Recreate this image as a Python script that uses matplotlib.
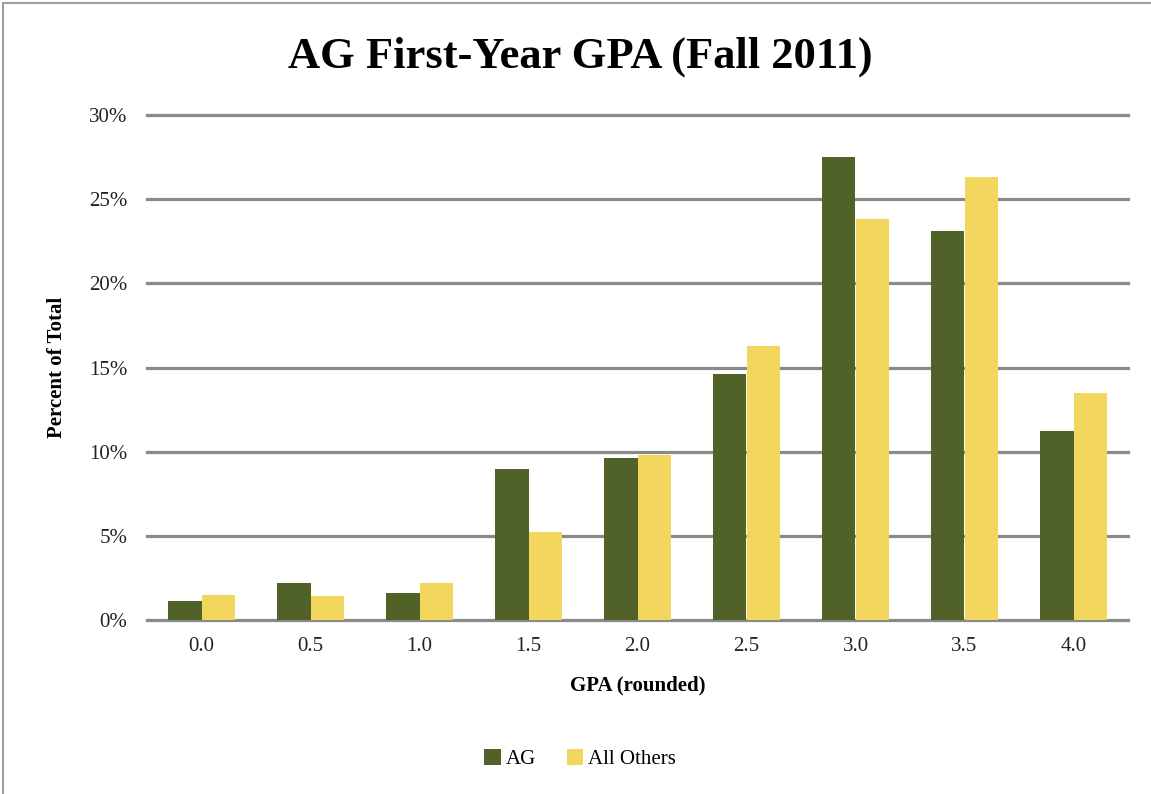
import matplotlib
matplotlib.use("Agg")
import matplotlib.pyplot as plt
import numpy as np
from matplotlib.patches import Rectangle
from matplotlib.ticker import FuncFormatter

categories = ["0.0", "0.5", "1.0", "1.5", "2.0", "2.5", "3.0", "3.5", "4.0"]
ag = [1.1, 2.2, 1.6, 9.0, 9.6, 14.6, 27.5, 23.1, 11.2]
others = [1.5, 1.4, 2.2, 5.2, 9.8, 16.3, 23.8, 26.3, 13.5]
yticks = [0, 5, 10, 15, 20, 25, 30]

plt.rcParams['font.family'] = ['Liberation Serif', 'DejaVu Serif']

fig = plt.figure(figsize=(11.51, 7.94), dpi=100)
ax = fig.add_axes([147/1151, 1-620/794, (1128-147)/1151, (620-115)/794])

x = np.arange(len(categories))
w = 0.31
ax.bar(x - w/2, ag, w, color="#506228", label="AG", zorder=3)
ax.bar(x + w/2, others, w, color="#F2D65E", label="All Others", zorder=3)

ax.set_xlim(-0.5, len(categories) - 0.5)
ax.set_ylim(0, 30)
ax.set_yticks(yticks)
ax.yaxis.set_major_formatter(FuncFormatter(lambda v, p: f"{int(v)}%"))
ax.set_xticks(x)
ax.set_xticklabels(categories)
ax.grid(axis="y", color="#898989", linewidth=2.3, zorder=0)
for gl in ax.get_ygridlines():
    gl.set_clip_on(False)
ax.tick_params(length=0, labelsize=15, colors="#222222", pad=14)
ax.tick_params(axis="x", pad=12)
for s in ax.spines.values():
    s.set_visible(False)

ax.set_xlabel("GPA (rounded)", fontsize=15, fontweight="bold", labelpad=14)
ax.set_ylabel("Percent of Total", fontsize=15, fontweight="bold", labelpad=16)

fig.text(580/1151, 1-57/794, "AG First-Year GPA (Fall 2011)", ha="center", va="center",
         fontsize=32, fontweight="bold")

leg = fig.legend(loc="center", bbox_to_anchor=(580/1151, 1-759/794), ncol=2, frameon=False,
                 fontsize=15, handlelength=0.8, handleheight=0.8, handletextpad=0.2,
                 columnspacing=1.5)

fig.patches.append(Rectangle((3/1151, -0.01), 1, 1-3/794+0.01, transform=fig.transFigure,
                             fill=False, edgecolor="#A0A0A0", linewidth=1.5))

fig.savefig("out.png", dpi=100)
